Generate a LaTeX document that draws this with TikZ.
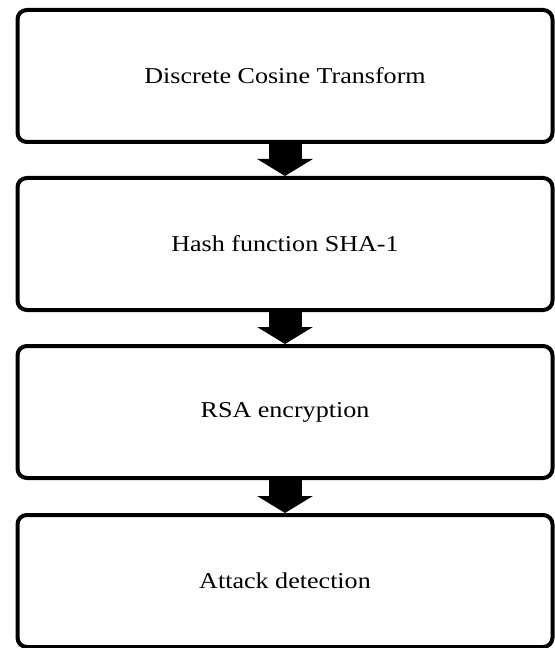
\documentclass[tikz,border=0pt]{standalone}
\usepackage{amsmath}
\usepackage{fontspec}
\setmainfont{Liberation Serif}
\usepackage{tikz}
\usetikzlibrary{arrows.meta}

\tikzset{
  stage/.style={draw, line width=3pt, rounded corners=7pt, minimum width=401.25pt, minimum height=99pt, inner sep=0pt, font=\fontsize{17}{20}\selectfont},
  blockarrow/.style={line width=24.75pt, -{Triangle[width=41.25pt,length=12.75pt]}}
}
\newcommand{\stagetext}[1]{\scalebox{1.15}[1]{#1}}

\begin{document}
\begin{tikzpicture}[x=0.75pt,y=0.75pt,yscale=-1,xscale=1]
        \useasboundingbox (0,0) rectangle (555,648);

        % Text Node
        \node[stage] (dct) at (285,76) {\stagetext{Discrete Cosine Transform}};
        % Text Node
        \node[stage] (sha) at (285,244) {\stagetext{Hash function SHA-1}};
        % Text Node
        \node[stage] (rsa) at (285,412) {\stagetext{RSA encryption}};
        % Text Node
        \node[stage] (att) at (285,581) {\stagetext{Attack detection}};

        %Block Arrows
        \draw[blockarrow] (dct.south) -- (sha.north);
        \draw[blockarrow] (sha.south) -- (rsa.north);
        \draw[blockarrow] (rsa.south) -- (att.north);

\end{tikzpicture}
\end{document}
